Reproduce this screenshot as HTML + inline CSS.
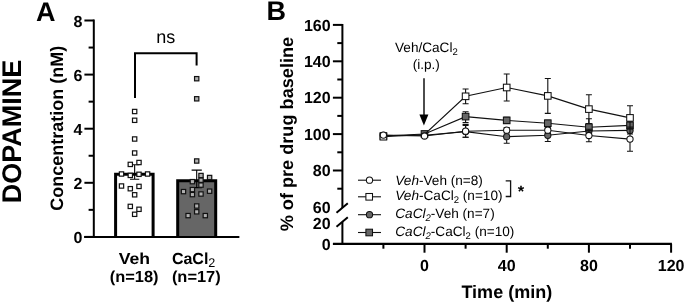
<!DOCTYPE html>
<html><head><meta charset="utf-8"><style>
html,body{margin:0;padding:0;background:#fff;}
svg{display:block;will-change:transform;}
text{text-rendering:geometricPrecision;}
text{fill:#000;}
</style></head><body>
<svg width="685" height="303" viewBox="0 0 685 303">
<rect width="685" height="303" fill="#fff"/>
<path d="M93.8 19.5 V236.9 " stroke="#000" stroke-width="2" fill="none"/>
<path d="M84.4 236.9 H239.2" stroke="#000" stroke-width="2" fill="none"/>
<path d="M84.4 236.9 H93.8" stroke="#000" stroke-width="2"/>
<path d="M88.6 209.85 H93.8" stroke="#000" stroke-width="2"/>
<path d="M84.4 182.8 H93.8" stroke="#000" stroke-width="2"/>
<path d="M88.6 155.75 H93.8" stroke="#000" stroke-width="2"/>
<path d="M84.4 128.7 H93.8" stroke="#000" stroke-width="2"/>
<path d="M88.6 101.65 H93.8" stroke="#000" stroke-width="2"/>
<path d="M84.4 74.6 H93.8" stroke="#000" stroke-width="2"/>
<path d="M88.6 47.55000000000001 H93.8" stroke="#000" stroke-width="2"/>
<path d="M84.4 20.5 H93.8" stroke="#000" stroke-width="2"/>
<text x="82.3" y="243.20000000000002" font-family="Liberation Sans, sans-serif" font-size="16" font-weight="bold" text-anchor="end">0</text>
<text x="82.3" y="189.10000000000002" font-family="Liberation Sans, sans-serif" font-size="16" font-weight="bold" text-anchor="end">2</text>
<text x="82.3" y="135.0" font-family="Liberation Sans, sans-serif" font-size="16" font-weight="bold" text-anchor="end">4</text>
<text x="82.3" y="80.89999999999999" font-family="Liberation Sans, sans-serif" font-size="16" font-weight="bold" text-anchor="end">6</text>
<text x="82.3" y="26.8" font-family="Liberation Sans, sans-serif" font-size="16" font-weight="bold" text-anchor="end">8</text>
<path d="M115.6 236.9 V174.3 H153.1 V236.9" fill="#fff" stroke="#000" stroke-width="3"/>
<path d="M177.7 236.9 V180.7 H215.7 V236.9" fill="#666" stroke="#000" stroke-width="3"/>
<path d="M84.4 236.9 H239.2" stroke="#000" stroke-width="2" fill="none"/>
<path d="M134.65 164.8 V179.2 M130 164.8 H139.3 M130 179.2 H139.3" stroke="#000" stroke-width="1.1" fill="none"/>
<path d="M196.7 170.1 V187.6 M191.6 170.1 H201.8 M191.6 187.6 H201.8" stroke="#000" stroke-width="1.1" fill="none"/>
<rect x="132.50" y="109.35" width="4.3" height="4.3" fill="#fff" stroke="#111" stroke-width="1.2"/>
<rect x="132.50" y="118.15" width="4.3" height="4.3" fill="#fff" stroke="#111" stroke-width="1.2"/>
<rect x="132.50" y="136.85" width="4.3" height="4.3" fill="#fff" stroke="#111" stroke-width="1.2"/>
<rect x="132.50" y="150.85" width="4.3" height="4.3" fill="#fff" stroke="#111" stroke-width="1.2"/>
<rect x="128.15" y="162.25" width="4.3" height="4.3" fill="#fff" stroke="#111" stroke-width="1.2"/>
<rect x="136.85" y="160.35" width="4.3" height="4.3" fill="#fff" stroke="#111" stroke-width="1.2"/>
<rect x="119.35" y="171.85" width="4.3" height="4.3" fill="#fff" stroke="#111" stroke-width="1.2"/>
<rect x="128.15" y="173.25" width="4.3" height="4.3" fill="#fff" stroke="#111" stroke-width="1.2"/>
<rect x="136.85" y="172.15" width="4.3" height="4.3" fill="#fff" stroke="#111" stroke-width="1.2"/>
<rect x="145.45" y="171.85" width="4.3" height="4.3" fill="#fff" stroke="#111" stroke-width="1.2"/>
<rect x="119.35" y="183.85" width="4.3" height="4.3" fill="#fff" stroke="#111" stroke-width="1.2"/>
<rect x="128.15" y="186.55" width="4.3" height="4.3" fill="#fff" stroke="#111" stroke-width="1.2"/>
<rect x="136.85" y="184.25" width="4.3" height="4.3" fill="#fff" stroke="#111" stroke-width="1.2"/>
<rect x="132.50" y="192.65" width="4.3" height="4.3" fill="#fff" stroke="#111" stroke-width="1.2"/>
<rect x="128.15" y="204.25" width="4.3" height="4.3" fill="#fff" stroke="#111" stroke-width="1.2"/>
<rect x="136.85" y="207.15" width="4.3" height="4.3" fill="#fff" stroke="#111" stroke-width="1.2"/>
<rect x="132.50" y="212.15" width="4.3" height="4.3" fill="#fff" stroke="#111" stroke-width="1.2"/>
<rect x="194.55" y="76.55" width="4.3" height="4.3" fill="#b0b0b0" stroke="#111" stroke-width="1.2"/>
<rect x="194.55" y="96.65" width="4.3" height="4.3" fill="#b0b0b0" stroke="#111" stroke-width="1.2"/>
<rect x="194.55" y="158.85" width="4.3" height="4.3" fill="#b0b0b0" stroke="#111" stroke-width="1.2"/>
<rect x="198.85" y="173.35" width="4.3" height="4.3" fill="#b0b0b0" stroke="#111" stroke-width="1.2"/>
<rect x="207.45" y="175.35" width="4.3" height="4.3" fill="#b0b0b0" stroke="#111" stroke-width="1.2"/>
<rect x="190.25" y="179.50" width="4.3" height="4.3" fill="#b0b0b0" stroke="#111" stroke-width="1.2"/>
<rect x="198.85" y="178.05" width="4.3" height="4.3" fill="#b0b0b0" stroke="#111" stroke-width="1.2"/>
<rect x="198.85" y="182.95" width="4.3" height="4.3" fill="#b0b0b0" stroke="#111" stroke-width="1.2"/>
<rect x="190.25" y="187.45" width="4.3" height="4.3" fill="#b0b0b0" stroke="#111" stroke-width="1.2"/>
<rect x="181.35" y="189.45" width="4.3" height="4.3" fill="#b0b0b0" stroke="#111" stroke-width="1.2"/>
<rect x="207.45" y="189.05" width="4.3" height="4.3" fill="#b0b0b0" stroke="#111" stroke-width="1.2"/>
<rect x="198.85" y="191.85" width="4.3" height="4.3" fill="#b0b0b0" stroke="#111" stroke-width="1.2"/>
<rect x="190.25" y="192.45" width="4.3" height="4.3" fill="#b0b0b0" stroke="#111" stroke-width="1.2"/>
<rect x="194.55" y="203.85" width="4.3" height="4.3" fill="#b0b0b0" stroke="#111" stroke-width="1.2"/>
<rect x="194.55" y="209.65" width="4.3" height="4.3" fill="#b0b0b0" stroke="#111" stroke-width="1.2"/>
<rect x="185.95" y="213.45" width="4.3" height="4.3" fill="#b0b0b0" stroke="#111" stroke-width="1.2"/>
<rect x="203.15" y="213.45" width="4.3" height="4.3" fill="#b0b0b0" stroke="#111" stroke-width="1.2"/>
<path d="M135 97.9 V53.2 H196.6 V65.4" stroke="#000" stroke-width="2" fill="none" stroke-linejoin="miter"/>
<text x="165.7" y="42.6" font-family="Liberation Sans, sans-serif" font-size="18" text-anchor="middle">ns</text>
<text x="134.4" y="263.7" font-family="Liberation Sans, sans-serif" font-size="16" font-weight="bold" text-anchor="middle" textLength="31.3" lengthAdjust="spacingAndGlyphs">Veh</text>
<text x="134.2" y="281.8" font-family="Liberation Sans, sans-serif" font-size="16" font-weight="bold" text-anchor="middle" textLength="48.8" lengthAdjust="spacingAndGlyphs">(n=18)</text>
<text x="171.9" y="263.7" font-family="Liberation Sans, sans-serif" font-size="16" font-weight="bold">CaCl<tspan font-size="12.6" font-weight="normal" dy="3.3">2</tspan></text>
<text x="196.3" y="281.8" font-family="Liberation Sans, sans-serif" font-size="16" font-weight="bold" text-anchor="middle" textLength="48.8" lengthAdjust="spacingAndGlyphs">(n=17)</text>
<text x="36" y="21" font-family="Liberation Sans, sans-serif" font-size="27" font-weight="bold">A</text>
<text transform="translate(21.4 131.5) rotate(-90)" font-family="Liberation Sans, sans-serif" font-size="27" font-weight="bold" text-anchor="middle">DOPAMINE</text>
<text transform="translate(63 128.2) rotate(-90)" font-family="Liberation Sans, sans-serif" font-size="18" font-weight="bold" text-anchor="middle">Concentration (nM)</text>
<text x="266.5" y="20.2" font-family="Liberation Sans, sans-serif" font-size="27" font-weight="bold">B</text>
<text transform="translate(293.1 134.1) rotate(-90)" font-family="Liberation Sans, sans-serif" font-size="18" font-weight="bold" text-anchor="middle" textLength="194.5" lengthAdjust="spacingAndGlyphs">% of pre drug baseline</text>
<path d="M342.4 23.89999999999999 V208 M342.4 222 V243.8" stroke="#000" stroke-width="2" fill="none"/>
<path d="M336.5 212.8 L347.8 203.3 M336.5 226.7 L347.8 217.2" stroke="#000" stroke-width="2" fill="none"/>
<path d="M332.9 243.8 H671.9" stroke="#000" stroke-width="2.3" fill="none"/>
<path d="M332.9 24.89999999999999 H342.4" stroke="#000" stroke-width="2"/>
<text x="330.6" y="30.59999999999999" font-family="Liberation Sans, sans-serif" font-size="16" font-weight="bold" text-anchor="end">160</text>
<path d="M332.9 61.3 H342.4" stroke="#000" stroke-width="2"/>
<text x="330.6" y="67.0" font-family="Liberation Sans, sans-serif" font-size="16" font-weight="bold" text-anchor="end">140</text>
<path d="M332.9 97.69999999999999 H342.4" stroke="#000" stroke-width="2"/>
<text x="330.6" y="103.39999999999999" font-family="Liberation Sans, sans-serif" font-size="16" font-weight="bold" text-anchor="end">120</text>
<path d="M332.9 134.1 H342.4" stroke="#000" stroke-width="2"/>
<text x="330.6" y="139.79999999999998" font-family="Liberation Sans, sans-serif" font-size="16" font-weight="bold" text-anchor="end">100</text>
<path d="M332.9 170.5 H342.4" stroke="#000" stroke-width="2"/>
<text x="330.6" y="176.2" font-family="Liberation Sans, sans-serif" font-size="16" font-weight="bold" text-anchor="end">80</text>
<path d="M337.3 43.099999999999994 H342.4" stroke="#000" stroke-width="2"/>
<path d="M337.3 79.5 H342.4" stroke="#000" stroke-width="2"/>
<path d="M337.3 115.89999999999999 H342.4" stroke="#000" stroke-width="2"/>
<path d="M337.3 152.29999999999998 H342.4" stroke="#000" stroke-width="2"/>
<path d="M337.3 188.7 H342.4" stroke="#000" stroke-width="2"/>
<text x="330.6" y="213.39999999999998" font-family="Liberation Sans, sans-serif" font-size="16" font-weight="bold" text-anchor="end">60</text>
<text x="330.6" y="228.6" font-family="Liberation Sans, sans-serif" font-size="16" font-weight="bold" text-anchor="end">20</text>
<text x="330.6" y="249.5" font-family="Liberation Sans, sans-serif" font-size="16" font-weight="bold" text-anchor="end">0</text>
<path d="M424.5 243.8 V252.7" stroke="#000" stroke-width="2"/>
<text x="424.5" y="271.4" font-family="Liberation Sans, sans-serif" font-size="16" font-weight="bold" text-anchor="middle">0</text>
<path d="M506.7 243.8 V252.7" stroke="#000" stroke-width="2"/>
<text x="506.7" y="271.4" font-family="Liberation Sans, sans-serif" font-size="16" font-weight="bold" text-anchor="middle">40</text>
<path d="M588.9 243.8 V252.7" stroke="#000" stroke-width="2"/>
<text x="588.9" y="271.4" font-family="Liberation Sans, sans-serif" font-size="16" font-weight="bold" text-anchor="middle">80</text>
<path d="M671.1 243.8 V252.7" stroke="#000" stroke-width="2"/>
<text x="671.1" y="271.4" font-family="Liberation Sans, sans-serif" font-size="16" font-weight="bold" text-anchor="middle">120</text>
<path d="M383.4 243.8 V248.7" stroke="#000" stroke-width="2"/>
<path d="M465.6 243.8 V248.7" stroke="#000" stroke-width="2"/>
<path d="M547.8 243.8 V248.7" stroke="#000" stroke-width="2"/>
<path d="M630.0 243.8 V248.7" stroke="#000" stroke-width="2"/>
<text x="506.8" y="297.7" font-family="Liberation Sans, sans-serif" font-size="18" font-weight="bold" text-anchor="middle">Time (min)</text>
<text x="395" y="52" font-family="Liberation Sans, sans-serif" font-size="13.6">Veh/CaCl<tspan font-size="9.5" dy="2.6">2</tspan></text>
<text x="426.3" y="68.6" font-family="Liberation Sans, sans-serif" font-size="13.6" text-anchor="middle">(i.p.)</text>
<path d="M424 78.3 V116" stroke="#000" stroke-width="1.4"/>
<path d="M419.4 114.6 H428.4 L423.9 125.4 Z" fill="#000"/>
<polyline points="383.4,135.5 424.5,135.2 465.6,131.6 506.7,136.7 547.8,135.3 588.9,131.0 630.0,130.4" fill="none" stroke="#111" stroke-width="1.15"/>
<path d="M383.4 134.5 V136.5 M380.4 134.5 H386.4 M380.4 136.5 H386.4" stroke="#111" stroke-width="1.1" fill="none"/>
<path d="M424.5 134 V136.4 M421.5 134 H427.5 M421.5 136.4 H427.5" stroke="#111" stroke-width="1.1" fill="none"/>
<path d="M465.6 124.5 V137.2 M462.6 124.5 H468.6 M462.6 137.2 H468.6" stroke="#111" stroke-width="1.1" fill="none"/>
<path d="M506.7 130.2 V143.2 M503.7 130.2 H509.7 M503.7 143.2 H509.7" stroke="#111" stroke-width="1.1" fill="none"/>
<path d="M547.8 129.1 V141.5 M544.8 129.1 H550.8 M544.8 141.5 H550.8" stroke="#111" stroke-width="1.1" fill="none"/>
<path d="M588.9 127.5 V134.5 M585.9 127.5 H591.9 M585.9 134.5 H591.9" stroke="#111" stroke-width="1.1" fill="none"/>
<path d="M630.0 127 V134 M627.0 127 H633.0 M627.0 134 H633.0" stroke="#111" stroke-width="1.1" fill="none"/>
<circle cx="383.4" cy="135.5" r="3.12" fill="#666" stroke="#111" stroke-width="1.05"/>
<circle cx="424.5" cy="135.2" r="3.12" fill="#666" stroke="#111" stroke-width="1.05"/>
<circle cx="465.6" cy="131.6" r="3.12" fill="#666" stroke="#111" stroke-width="1.05"/>
<circle cx="506.7" cy="136.7" r="3.12" fill="#666" stroke="#111" stroke-width="1.05"/>
<circle cx="547.8" cy="135.3" r="3.12" fill="#666" stroke="#111" stroke-width="1.05"/>
<circle cx="588.9" cy="131.0" r="3.12" fill="#666" stroke="#111" stroke-width="1.05"/>
<circle cx="630.0" cy="130.4" r="3.12" fill="#666" stroke="#111" stroke-width="1.05"/>
<polyline points="383.4,136.0 424.5,133.95 465.6,116.6 506.7,120.4 547.8,123.2 588.9,127.2 630.0,125.4" fill="none" stroke="#111" stroke-width="1.15"/>
<path d="M383.4 135 V137 M380.4 135 H386.4 M380.4 137 H386.4" stroke="#111" stroke-width="1.1" fill="none"/>
<path d="M424.5 132 V136 M421.5 132 H427.5 M421.5 136 H427.5" stroke="#111" stroke-width="1.1" fill="none"/>
<path d="M465.6 111.8 V122.6 M462.6 111.8 H468.6 M462.6 122.6 H468.6" stroke="#111" stroke-width="1.1" fill="none"/>
<path d="M506.7 117.4 V123.5 M503.7 117.4 H509.7 M503.7 123.5 H509.7" stroke="#111" stroke-width="1.1" fill="none"/>
<path d="M547.8 120.2 V126.2 M544.8 120.2 H550.8 M544.8 126.2 H550.8" stroke="#111" stroke-width="1.1" fill="none"/>
<path d="M588.9 118.8 V131 M585.9 118.8 H591.9 M585.9 131 H591.9" stroke="#111" stroke-width="1.1" fill="none"/>
<path d="M630.0 121.5 V129 M627.0 121.5 H633.0 M627.0 129 H633.0" stroke="#111" stroke-width="1.1" fill="none"/>
<rect x="380.10" y="132.70" width="6.6" height="6.6" fill="#666" stroke="#111" stroke-width="1.05"/>
<rect x="421.20" y="130.65" width="6.6" height="6.6" fill="#666" stroke="#111" stroke-width="1.05"/>
<rect x="462.30" y="113.30" width="6.6" height="6.6" fill="#666" stroke="#111" stroke-width="1.05"/>
<rect x="503.40" y="117.10" width="6.6" height="6.6" fill="#666" stroke="#111" stroke-width="1.05"/>
<rect x="544.50" y="119.90" width="6.6" height="6.6" fill="#666" stroke="#111" stroke-width="1.05"/>
<rect x="585.60" y="123.90" width="6.6" height="6.6" fill="#666" stroke="#111" stroke-width="1.05"/>
<rect x="626.70" y="122.10" width="6.6" height="6.6" fill="#666" stroke="#111" stroke-width="1.05"/>
<polyline points="383.4,136.7 424.5,134.5 465.6,96.3 506.7,87.5 547.8,95.9 588.9,109.1 630.0,117.9" fill="none" stroke="#111" stroke-width="1.15"/>
<path d="M383.4 135.8 V138.4 M380.4 135.8 H386.4 M380.4 138.4 H386.4" stroke="#111" stroke-width="1.1" fill="none"/>
<path d="M424.5 133.5 V135.5 M421.5 133.5 H427.5 M421.5 135.5 H427.5" stroke="#111" stroke-width="1.1" fill="none"/>
<path d="M465.6 89 V103.7 M462.6 89 H468.6 M462.6 103.7 H468.6" stroke="#111" stroke-width="1.1" fill="none"/>
<path d="M506.7 74 V101 M503.7 74 H509.7 M503.7 101 H509.7" stroke="#111" stroke-width="1.1" fill="none"/>
<path d="M547.8 78.5 V113.4 M544.8 78.5 H550.8 M544.8 113.4 H550.8" stroke="#111" stroke-width="1.1" fill="none"/>
<path d="M588.9 94.7 V123.5 M585.9 94.7 H591.9 M585.9 123.5 H591.9" stroke="#111" stroke-width="1.1" fill="none"/>
<path d="M630.0 105.8 V128 M627.0 105.8 H633.0 M627.0 128 H633.0" stroke="#111" stroke-width="1.1" fill="none"/>
<rect x="380.10" y="133.40" width="6.6" height="6.6" fill="#fff" stroke="#111" stroke-width="1.05"/>
<rect x="462.30" y="93.00" width="6.6" height="6.6" fill="#fff" stroke="#111" stroke-width="1.05"/>
<rect x="503.40" y="84.20" width="6.6" height="6.6" fill="#fff" stroke="#111" stroke-width="1.05"/>
<rect x="544.50" y="92.60" width="6.6" height="6.6" fill="#fff" stroke="#111" stroke-width="1.05"/>
<rect x="585.60" y="105.80" width="6.6" height="6.6" fill="#fff" stroke="#111" stroke-width="1.05"/>
<rect x="626.70" y="114.60" width="6.6" height="6.6" fill="#fff" stroke="#111" stroke-width="1.05"/>
<polyline points="383.4,135.1 424.5,136.0 465.6,131.2 506.7,130.2 547.8,130.2 588.9,135.5 630.0,139.1" fill="none" stroke="#111" stroke-width="1.15"/>
<path d="M383.4 134 V136 M380.4 134 H386.4 M380.4 136 H386.4" stroke="#111" stroke-width="1.1" fill="none"/>
<path d="M424.5 135 V137 M421.5 135 H427.5 M421.5 137 H427.5" stroke="#111" stroke-width="1.1" fill="none"/>
<path d="M465.6 125.4 V137.2 M462.6 125.4 H468.6 M462.6 137.2 H468.6" stroke="#111" stroke-width="1.1" fill="none"/>
<path d="M506.7 127.5 V133 M503.7 127.5 H509.7 M503.7 133 H509.7" stroke="#111" stroke-width="1.1" fill="none"/>
<path d="M547.8 127.5 V133 M544.8 127.5 H550.8 M544.8 133 H550.8" stroke="#111" stroke-width="1.1" fill="none"/>
<path d="M588.9 129.2 V141.8 M585.9 129.2 H591.9 M585.9 141.8 H591.9" stroke="#111" stroke-width="1.1" fill="none"/>
<path d="M630.0 127 V151.2 M627.0 127 H633.0 M627.0 151.2 H633.0" stroke="#111" stroke-width="1.1" fill="none"/>
<circle cx="383.4" cy="135.1" r="3.12" fill="#fff" stroke="#111" stroke-width="1.05"/>
<circle cx="424.5" cy="136.0" r="3.12" fill="#fff" stroke="#111" stroke-width="1.05"/>
<circle cx="465.6" cy="131.2" r="3.12" fill="#fff" stroke="#111" stroke-width="1.05"/>
<circle cx="506.7" cy="130.2" r="3.12" fill="#fff" stroke="#111" stroke-width="1.05"/>
<circle cx="547.8" cy="130.2" r="3.12" fill="#fff" stroke="#111" stroke-width="1.05"/>
<circle cx="588.9" cy="135.5" r="3.12" fill="#fff" stroke="#111" stroke-width="1.05"/>
<circle cx="630.0" cy="139.1" r="3.12" fill="#fff" stroke="#111" stroke-width="1.05"/>
<path d="M358 180.2 H381" stroke="#111" stroke-width="1.1"/>
<circle cx="369.5" cy="180.2" r="3.12" fill="#fff" stroke="#111" stroke-width="1.05"/>
<path d="M358 196.8 H381" stroke="#111" stroke-width="1.1"/>
<rect x="365.90" y="193.50" width="6.6" height="6.6" fill="#fff" stroke="#111" stroke-width="1.05"/>
<path d="M358 214.7 H381" stroke="#111" stroke-width="1.1"/>
<circle cx="369.5" cy="214.7" r="3.12" fill="#666" stroke="#111" stroke-width="1.05"/>
<path d="M358 232.5 H381" stroke="#111" stroke-width="1.1"/>
<rect x="365.90" y="229.20" width="6.6" height="6.6" fill="#666" stroke="#111" stroke-width="1.05"/>
<text x="395.3" y="184.85" font-family="Liberation Sans, sans-serif" font-size="13.6"><tspan font-style="italic">Veh</tspan>-Veh (n=8)</text>
<text x="395.3" y="199.7" font-family="Liberation Sans, sans-serif" font-size="13.6"><tspan font-style="italic">Veh</tspan>-CaCl<tspan font-size="9.5" dy="3">2</tspan><tspan dy="-3"> (n=10)</tspan></text>
<text x="395.3" y="217.7" font-family="Liberation Sans, sans-serif" font-size="13.6"><tspan font-style="italic">CaCl</tspan><tspan font-style="italic" font-size="9.5" dy="3">2</tspan><tspan dy="-3">-Veh (n=7)</tspan></text>
<text x="395.3" y="235.85" font-family="Liberation Sans, sans-serif" font-size="13.6"><tspan font-style="italic">CaCl</tspan><tspan font-style="italic" font-size="9.5" dy="3">2</tspan><tspan dy="-3">-CaCl</tspan><tspan font-size="9.5" dy="3">2</tspan><tspan dy="-3"> (n=10)</tspan></text>
<path d="M505.7 180.9 H510.6 V196.5 H505.7" stroke="#111" stroke-width="1.3" fill="none"/>
<text x="521" y="196.8" font-family="Liberation Sans, sans-serif" font-size="16.5" font-weight="bold" text-anchor="middle">*</text>
</svg>
</body></html>
